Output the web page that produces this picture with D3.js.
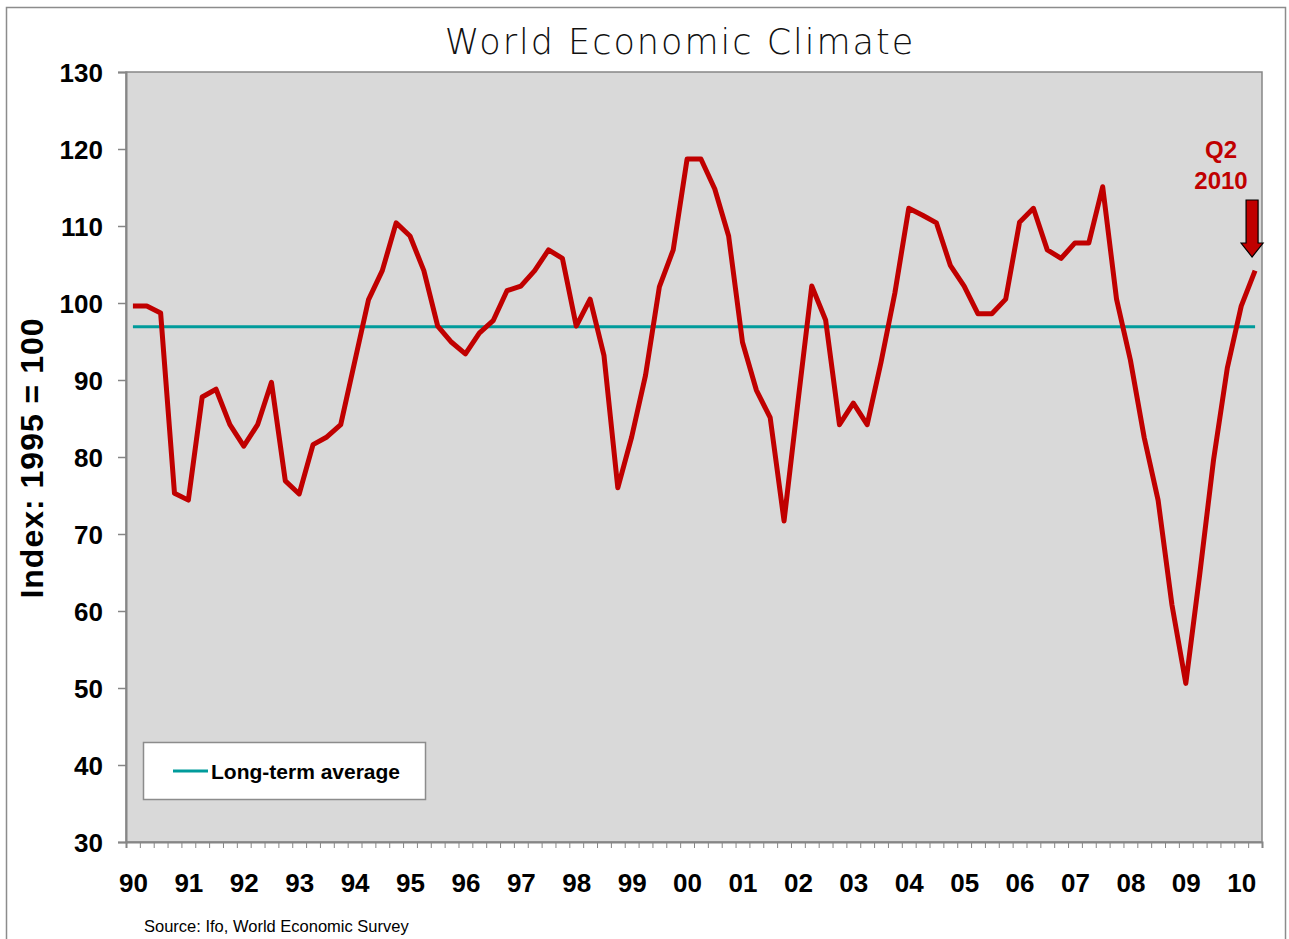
<!DOCTYPE html>
<html>
<head>
<meta charset="utf-8">
<script src="https://cdn.jsdelivr.net/npm/d3@7"></script>
<style>
  body { margin: 0; background: #fff; }
  svg { display: block; }
</style>
</head>
<body>
<div id="chart"></div>
<script>
var width = 1289,
    height = 939,
    margin = {top: 72, bottom: 97, left: 126, right: 27};

// quarterly index values, 1990 Q1 .. 2010 Q2
var climate = [
  99.6, 99.6, 98.7, 75.3,   // 1990
  74.4, 87.8, 88.8, 84.2,   // 1991
  81.4, 84.2, 89.7, 76.9,   // 1992
  75.2, 81.6, 82.6, 84.2,   // 1993
  92.3, 100.4, 104.2, 110.4, // 1994
  108.7, 104.2, 97.0, 94.9, // 1995
  93.4, 96.1, 97.7, 101.6,  // 1996
  102.2, 104.2, 106.9, 105.8, // 1997
  97.0, 100.5, 93.2, 76.0,  // 1998
  82.6, 90.6, 102.1, 106.9, // 1999
  118.7, 118.7, 114.8, 108.7, // 2000
  94.9, 88.7, 85.1, 71.7,   // 2001
  87.1, 102.2, 97.8, 84.2,  // 2002
  87.0, 84.2, 92.3, 101.3,  // 2003
  112.3, 111.4, 110.4, 104.9, // 2004
  102.2, 98.6, 98.6, 100.5, // 2005
  110.5, 112.3, 106.9, 105.8, // 2006
  107.8, 107.8, 115.1, 100.5, // 2007
  92.6, 82.5, 74.4, 60.8,   // 2008
  50.6, 64.7, 79.6, 91.6,   // 2009
  99.6, 104.2               // 2010
];
var longTermAvg = 96.9;
var yearLabels = ["90","91","92","93","94","95","96","97","98","99","00",
                  "01","02","03","04","05","06","07","08","09","10"];
var yTicks = [30, 40, 50, 60, 70, 80, 90, 100, 110, 120, 130];

var red = "#c00000", teal = "#009b9b", axisGray = "#868686";

var svg = d3.select("#chart").append("svg")
    .attr("width", width)
    .attr("height", height);

// outer frame
svg.append("rect")
    .attr("x", 6.5).attr("y", 7.5)
    .attr("width", 1279).attr("height", 945)
    .attr("fill", "#fff")
    .attr("stroke", "#8c8c8c")
    .attr("stroke-width", 1.5);

var x = d3.scaleLinear()
    .domain([0, climate.length])
    .range([margin.left, width - margin.right]);
var y = d3.scaleLinear()
    .domain([30, 130])
    .range([height - margin.bottom, margin.top]);

// plot area
svg.append("rect")
    .attr("x", x(0)).attr("y", y(130))
    .attr("width", x(climate.length) - x(0))
    .attr("height", y(30) - y(130))
    .attr("fill", "#d9d9d9")
    .attr("stroke", axisGray)
    .attr("stroke-width", 1.5);

// y axis
var yAxis = svg.append("g")
    .attr("transform", "translate(" + x(0) + ",0)")
    .call(d3.axisLeft(y).tickValues(yTicks).tickSize(8).tickPadding(15));
yAxis.select(".domain").attr("stroke", axisGray).attr("stroke-width", 2);
yAxis.selectAll(".tick line").attr("stroke", axisGray).attr("stroke-width", 1.5);
yAxis.selectAll("text")
    .attr("fill", "#000")
    .style("font-family", "Liberation Sans, Arial, sans-serif")
    .style("font-weight", "bold")
    .style("font-size", "26px")
    .attr("dy", "0.36em");

// x axis: quarter ticks between categories
var xTicks = d3.range(0, climate.length + 1);
var xAxis = svg.append("g")
    .attr("transform", "translate(0," + y(30) + ")")
    .call(d3.axisBottom(x).tickValues(xTicks).tickSize(6).tickFormat(""));
xAxis.select(".domain").attr("stroke", axisGray).attr("stroke-width", 2);
xAxis.selectAll(".tick line").attr("stroke", axisGray).attr("stroke-width", 1);

// year labels centred on first quarter of each year
var labelAxis = svg.append("g")
    .attr("transform", "translate(0," + y(30) + ")")
    .call(d3.axisBottom(x)
      .tickValues(yearLabels.map(function(d, i) { return i * 4 + 0.5; }))
      .tickSize(0).tickPadding(32)
      .tickFormat(function(d, i) { return yearLabels[i]; }));
labelAxis.select(".domain").remove();
labelAxis.selectAll("text")
    .attr("fill", "#000")
    .style("font-family", "Liberation Sans, Arial, sans-serif")
    .style("font-weight", "bold")
    .style("font-size", "26px");

// long-term average
svg.append("line")
    .attr("x1", x(0.5)).attr("x2", x(climate.length - 0.5))
    .attr("y1", y(longTermAvg)).attr("y2", y(longTermAvg))
    .attr("stroke", teal)
    .attr("stroke-width", 3);

// climate line
var line = d3.line()
    .x(function(d, i) { return x(i + 0.5); })
    .y(function(d) { return y(d); });
svg.append("path")
    .attr("d", line(climate))
    .attr("fill", "none")
    .attr("stroke", red)
    .attr("stroke-width", 5)
    .attr("stroke-linejoin", "round");

// title
svg.append("text")
    .attr("x", 680).attr("y", 54)
    .attr("text-anchor", "middle")
    .attr("fill", "#111")
    .style("font-family", "DejaVu Sans, Verdana, sans-serif")
    .style("font-weight", "300")
    .style("font-size", "35px")
    .style("letter-spacing", "2px")
    .text("World Economic Climate");

// y axis title
svg.append("text")
    .attr("transform", "translate(43," + 458 + ") rotate(-90)")
    .attr("text-anchor", "middle")
    .attr("fill", "#000")
    .style("font-family", "Liberation Sans, Arial, sans-serif")
    .style("font-weight", "bold")
    .style("font-size", "32px")
    .style("letter-spacing", "1px")
    .text("Index: 1995 = 100");

// legend
var leg = svg.append("g");
leg.append("rect")
    .attr("x", 143.5).attr("y", 742.5)
    .attr("width", 282).attr("height", 57)
    .attr("fill", "#fff")
    .attr("stroke", "#8c8c8c")
    .attr("stroke-width", 1.5);
leg.append("line")
    .attr("x1", 173).attr("x2", 208)
    .attr("y1", 771).attr("y2", 771)
    .attr("stroke", teal).attr("stroke-width", 3);
leg.append("text")
    .attr("x", 211).attr("y", 779)
    .attr("fill", "#000")
    .style("font-family", "Liberation Sans, Arial, sans-serif")
    .style("font-weight", "bold")
    .style("font-size", "21px")
    .text("Long-term average");

// annotation Q2 2010
var lastX = x(climate.length - 0.5);
var ann = svg.append("g")
    .attr("fill", red)
    .style("font-family", "Liberation Sans, Arial, sans-serif")
    .style("font-weight", "bold")
    .style("font-size", "24px")
    .attr("text-anchor", "middle");
ann.append("text").attr("x", 1221).attr("y", 158).text("Q2");
ann.append("text").attr("x", 1221).attr("y", 189).text("2010");

var arrowX = lastX - 3, arrowTop = 200, arrowTip = 257;
svg.append("path")
    .attr("d", "M" + (arrowX - 6) + "," + arrowTop + "H" + (arrowX + 6) + "V" + (arrowTip - 14) +
               "H" + (arrowX + 11) + "L" + arrowX + "," + arrowTip + "L" + (arrowX - 11) + "," + (arrowTip - 14) +
               "H" + (arrowX - 6) + "Z")
    .attr("fill", red)
    .attr("stroke", "#000")
    .attr("stroke-width", 1.2);

// source
svg.append("text")
    .attr("x", 144).attr("y", 932)
    .attr("fill", "#000")
    .style("font-family", "Liberation Sans, Arial, sans-serif")
    .style("font-size", "16.5px")
    .text("Source: Ifo, World Economic Survey");
</script>
</body>
</html>
